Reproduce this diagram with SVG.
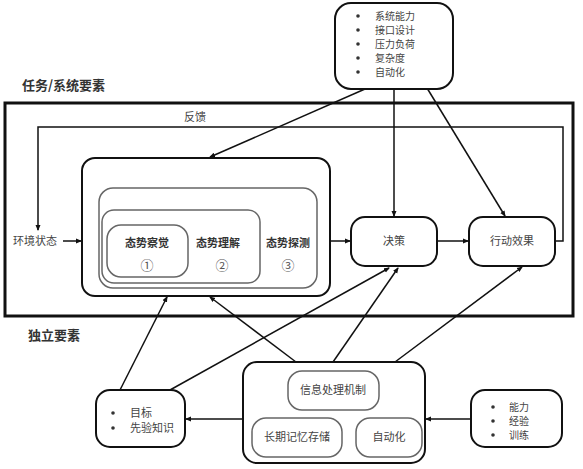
<svg xmlns="http://www.w3.org/2000/svg" width="583" height="469" viewBox="0 0 583 469">
<defs>
<marker id="a" markerWidth="6" markerHeight="6" refX="5" refY="3" orient="auto" markerUnits="userSpaceOnUse">
<path d="M0,0.5 L6,3 L0,5.5 Z" fill="#111"/>
</marker>
</defs>
<style>
text{font-family:"Noto Sans CJK SC","Liberation Sans",sans-serif;fill:#444;font-size:11px}
.s{font-size:10px}
.t{font-size:13px;font-weight:bold;fill:#333}
.b{font-weight:bold;fill:#333}
.n{font-size:13px;fill:#555}
.node{fill:#fff;stroke:#111;stroke-width:2}
.in{fill:none;stroke:#666;stroke-width:1.5}
.ln{fill:none;stroke:#111;stroke-width:1.5}
.dot{fill:#333}
</style>
<rect width="583" height="469" fill="#fff"/>
<text class="t" x="22" y="90">任务/系统要素</text>
<text class="t" x="28" y="340">独立要素</text>
<rect x="5" y="103" width="568" height="213" fill="none" stroke="#111" stroke-width="3"/>

<g id="connectors">
<polyline class="ln" points="555,241 563,241 563,127 38,127 38,230" marker-end="url(#a)"/>
<line class="ln" x1="63" y1="241" x2="81" y2="241" marker-end="url(#a)"/>
<line class="ln" x1="330" y1="241" x2="350" y2="241" marker-end="url(#a)"/>
<line class="ln" x1="437" y1="241" x2="468" y2="241" marker-end="url(#a)"/>
<line class="ln" x1="365" y1="89" x2="210" y2="157" marker-end="url(#a)"/>
<line class="ln" x1="394" y1="90" x2="394" y2="216" marker-end="url(#a)"/>
<line class="ln" x1="427" y1="88" x2="505" y2="216" marker-end="url(#a)"/>
<line class="ln" x1="120" y1="390" x2="167" y2="297" marker-end="url(#a)"/>
<line class="ln" x1="170" y1="390" x2="389" y2="268" marker-end="url(#a)"/>
<line class="ln" x1="296" y1="362" x2="210" y2="297" marker-end="url(#a)"/>
<line class="ln" x1="333" y1="362" x2="398" y2="268" marker-end="url(#a)"/>
<line class="ln" x1="395" y1="362" x2="522" y2="267" marker-end="url(#a)"/>
<line class="ln" x1="243" y1="419" x2="186" y2="419" marker-end="url(#a)"/>
<line class="ln" x1="471" y1="419" x2="426" y2="419" marker-end="url(#a)"/>
</g>

<g id="sys">
<rect class="node" x="335" y="3" width="118" height="86" rx="16"/>
<circle class="dot" cx="358" cy="16" r="1.8"/><text class="s" x="375" y="19.5">系统能力</text>
<circle class="dot" cx="358" cy="30" r="1.8"/><text class="s" x="375" y="33.5">接口设计</text>
<circle class="dot" cx="358" cy="44" r="1.8"/><text class="s" x="375" y="47.5">压力负荷</text>
<circle class="dot" cx="358" cy="58" r="1.8"/><text class="s" x="375" y="61.5">复杂度</text>
<circle class="dot" cx="358" cy="72" r="1.8"/><text class="s" x="375" y="75.5">自动化</text>
</g>

<g id="feedback"><text x="195" y="121" text-anchor="middle">反馈</text></g>
<g id="env"><text x="13" y="245">环境状态</text></g>

<g id="sa">
<rect class="node" x="82" y="158" width="248" height="138" rx="13"/>
<rect class="in" x="99" y="188" width="218" height="100" rx="14"/>
<rect class="in" x="102" y="210" width="158" height="73" rx="12"/>
<rect class="in" x="107" y="225" width="81" height="52" rx="14"/>
<text class="b" x="147" y="247" text-anchor="middle">态势察觉</text>
<text class="n" x="147" y="270" text-anchor="middle">①</text>
<text class="b" x="218" y="247" text-anchor="middle">态势理解</text>
<text class="n" x="222" y="270" text-anchor="middle">②</text>
<text class="b" x="288" y="247" text-anchor="middle">态势探测</text>
<text class="n" x="288" y="270" text-anchor="middle">③</text>
</g>

<g id="decision">
<rect class="node" x="351" y="217" width="86" height="49" rx="14"/>
<text x="394" y="245" text-anchor="middle">决策</text>
</g>
<g id="action">
<rect class="node" x="469" y="217" width="86" height="49" rx="14"/>
<text x="512" y="245" text-anchor="middle">行动效果</text>
</g>

<g id="goal">
<rect class="node" x="96" y="390" width="89" height="57" rx="14"/>
<circle class="dot" cx="113" cy="413" r="1.8"/><text x="130" y="417">目标</text>
<circle class="dot" cx="113" cy="428" r="1.8"/><text x="130" y="432">先验知识</text>
</g>

<g id="mech">
<rect class="node" x="243" y="362" width="182" height="101" rx="14"/>
<rect class="in" x="288" y="371" width="91" height="39" rx="14"/>
<text x="333" y="394" text-anchor="middle">信息处理机制</text>
<rect class="in" x="252" y="418" width="90" height="39" rx="14"/>
<text x="297" y="441" text-anchor="middle">长期记忆存储</text>
<rect class="in" x="356" y="418" width="66" height="39" rx="14"/>
<text x="389" y="441" text-anchor="middle">自动化</text>
</g>

<g id="ability">
<rect class="node" x="471" y="390" width="91" height="57" rx="14"/>
<circle class="dot" cx="493" cy="407" r="1.8"/><text class="s" x="509" y="410.5">能力</text>
<circle class="dot" cx="493" cy="421" r="1.8"/><text class="s" x="509" y="424.5">经验</text>
<circle class="dot" cx="493" cy="435" r="1.8"/><text class="s" x="509" y="438.5">训练</text>
</g>
</svg>
